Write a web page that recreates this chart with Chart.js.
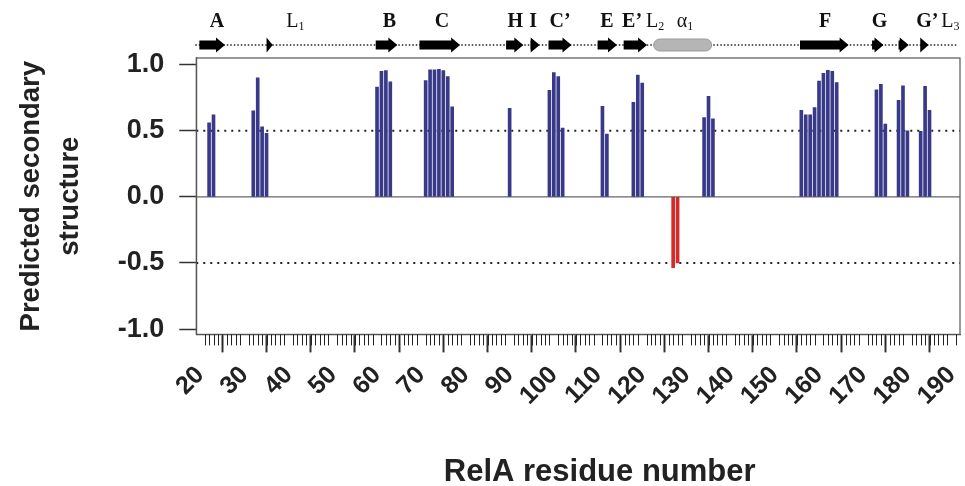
<!DOCTYPE html>
<html>
<head>
<meta charset="utf-8">
<script src="https://cdn.jsdelivr.net/npm/chart.js@4.4.1/dist/chart.umd.min.js"></script>
<style>
  body { margin: 0; background: #fff; }
</style>
</head>
<body>
<canvas id="chart" width="965" height="486"></canvas>
<script>
// residues and predicted scores
const residues = [22, 23, 32, 33, 34, 35, 60, 61, 62, 63, 71, 72, 73, 74, 75, 76, 77, 90,
  99, 100, 101, 102, 111, 112, 118, 119, 120, 127, 128, 134, 135, 136,
  156, 157, 158, 159, 160, 161, 162, 163, 164, 173, 174, 175, 178, 179, 180, 183, 184, 185];
const scores = [0.56, 0.62, 0.65, 0.90, 0.53, 0.48, 0.83, 0.95, 0.955, 0.87,
  0.88, 0.96, 0.96, 0.965, 0.955, 0.91, 0.68, 0.67,
  0.805, 0.94, 0.91, 0.52, 0.685, 0.475, 0.715, 0.92, 0.86, -0.535, -0.50, 0.60, 0.76, 0.59,
  0.655, 0.62, 0.62, 0.675, 0.875, 0.935, 0.957, 0.95, 0.865, 0.81, 0.85, 0.55, 0.73, 0.84, 0.50,
  0.495, 0.835, 0.655];
const yTicks = [-1, -0.5, 0, 0.5, 1];
const refLevels = [0.5, -0.5];

// secondary structure elements along the sequence
const strandStart = [19.8, 35, 59.7, 69.6, 89.2, 94.7, 98.8, 109.9, 115.8, 155.7, 172, 178, 182.9];
const strandEnd = [25.6, 36.4, 64.6, 78.8, 93.1, 96.8, 104, 114.3, 121.1, 166.7, 174.6, 180.3, 184.8];
const helixStart = [122.6];
const helixEnd = [135.7];
const ssLabels = ['A', 'L', 'B', 'C', 'H', 'I', 'C’', 'E', 'E’', 'L', 'α', 'F', 'G', 'G’', 'L'];
const ssSubs = ['', '1', '', '', '', '', '', '', '', '2', '1', '', '', '', '3'];
const ssLabelPos = [23.8, 41.5, 62.8, 74.7, 91.3, 95.3, 101.4, 112.0, 117.7, 122.9, 129.7, 161.4, 173.7, 184.5, 189.7];

const xMin = 19.1, xMax = 191.9;

const barColor = '#39398a';
const negColor = '#d42a2a';

const framePlugin = {
  id: 'frame',
  afterDraw(chart) {
    const ctx = chart.ctx;
    const a = chart.chartArea;
    const x = chart.scales.x;
    ctx.save();
    // box around plot
    ctx.strokeStyle = '#555';
    ctx.lineWidth = 1.2;
    ctx.strokeRect(a.left, a.top, a.right - a.left, a.bottom - a.top);

    // minor x ticks
    ctx.strokeStyle = '#222';
    ctx.lineWidth = 1;
    ctx.beginPath();
    for (let r = 20; r <= 191; r++) {
      if (r % 10 === 0) continue;
      const px = Math.round(x.getPixelForValue(r)) + 0.5;
      ctx.moveTo(px, a.bottom);
      ctx.lineTo(px, a.bottom + 11);
    }
    ctx.stroke();

    // secondary structure track
    const yTrack = 45;
    ctx.setLineDash([1.5, 2]);
    ctx.strokeStyle = '#222';
    ctx.lineWidth = 1.3;
    ctx.beginPath();
    ctx.moveTo(a.left - 1, yTrack);
    ctx.lineTo(a.right - 2, yTrack);
    ctx.stroke();
    ctx.setLineDash([]);

    ctx.fillStyle = '#000';
    strandStart.forEach((s, i) => {
      const x1 = x.getPixelForValue(s);
      const x2 = x.getPixelForValue(strandEnd[i]);
      const head = Math.min(9, x2 - x1);
      ctx.beginPath();
      ctx.moveTo(x1, yTrack - 4.5);
      ctx.lineTo(x2 - head, yTrack - 4.5);
      ctx.lineTo(x2 - head, yTrack - 7.5);
      ctx.lineTo(x2, yTrack);
      ctx.lineTo(x2 - head, yTrack + 7.5);
      ctx.lineTo(x2 - head, yTrack + 4.5);
      ctx.lineTo(x1, yTrack + 4.5);
      ctx.closePath();
      ctx.fill();
    });

    helixStart.forEach((s, i) => {
      const x1 = x.getPixelForValue(s);
      const x2 = x.getPixelForValue(helixEnd[i]);
      ctx.beginPath();
      ctx.roundRect(x1, yTrack - 6, x2 - x1, 12, 6);
      ctx.fillStyle = '#b5b5b5';
      ctx.fill();
      ctx.strokeStyle = '#9a9a9a';
      ctx.lineWidth = 1;
      ctx.stroke();
    });

    ctx.fillStyle = '#111';
    ctx.textBaseline = 'alphabetic';
    ssLabels.forEach((t, i) => {
      const px = x.getPixelForValue(ssLabelPos[i]);
      const bold = ssSubs[i] === '';
      const mainFont = (bold ? 'bold ' : '') + '20px "Liberation Serif"';
      ctx.font = mainFont;
      const w1 = ctx.measureText(t).width;
      ctx.font = '12px "Liberation Serif"';
      const w2 = ssSubs[i] ? ctx.measureText(ssSubs[i]).width : 0;
      const left = px - (w1 + w2) / 2;
      ctx.font = mainFont;
      ctx.textAlign = 'left';
      ctx.fillText(t, left, 27);
      if (ssSubs[i]) {
        ctx.font = '12px "Liberation Serif"';
        ctx.fillText(ssSubs[i], left + w1, 30);
      }
    });
    ctx.restore();
  }
};

const refData = refLevels.map(v => [{ x: xMin, y: v }, { x: xMax, y: v }]);

new Chart(document.getElementById('chart'), {
  type: 'bar',
  data: {
    datasets: [
      {
        type: 'bar',
        data: residues.map((r, i) => ({ x: r, y: scores[i] })),
        backgroundColor: scores.map(v => v < 0 ? negColor : barColor),
        barThickness: 3,
        order: 1
      },
      {
        type: 'line',
        data: refData[0],
        borderColor: '#222',
        borderWidth: 2,
        borderDash: [2, 5],
        pointRadius: 0,
        order: 2
      },
      {
        type: 'line',
        data: refData[1],
        borderColor: '#222',
        borderWidth: 2,
        borderDash: [2, 5],
        pointRadius: 0,
        order: 2
      },
      {
        type: 'line',
        data: [{ x: xMin, y: 0 }, { x: xMax, y: 0 }],
        borderColor: '#666',
        borderWidth: 1.3,
        pointRadius: 0,
        order: 3
      }
    ]
  },
  options: {
    responsive: false,
    animation: false,
    layout: { padding: { top: 58, right: 5, left: 11, bottom: 0 } },
    plugins: {
      legend: { display: false },
      tooltip: { enabled: false }
    },
    scales: {
      x: {
        type: 'linear',
        min: xMin,
        max: xMax,
        offset: false,
        afterBuildTicks: s => {
          const t = [];
          for (let r = 20; r <= 190; r += 10) t.push({ value: r });
          s.ticks = t;
        },
        afterFit: s => { s.paddingRight = 0; s.paddingLeft = 0; },
        grid: {
          drawOnChartArea: false,
          tickLength: 18,
          tickWidth: 2,
          tickColor: '#333'
        },
        border: { color: '#555', width: 1.2 },
        ticks: {
          autoSkip: false,
          minRotation: 45,
          maxRotation: 45,
          padding: 8,
          color: '#222',
          font: { family: '"Liberation Sans"', size: 25, weight: 'bold' },
          callback: v => String(v)
        },
        title: {
          display: true,
          text: '     RelA residue number',
          color: '#222',
          font: { family: '"Liberation Sans"', size: 31, weight: 'bold', lineHeight: 0.9 },
          padding: { top: 39, bottom: 0 }
        }
      },
      y: {
        min: -1.04,
        max: 1.05,
        afterBuildTicks: s => { s.ticks = yTicks.map(v => ({ value: v })); },
        grid: {
          drawOnChartArea: false,
          tickLength: 17,
          tickWidth: 1.5,
          tickColor: '#333'
        },
        border: { color: '#555', width: 1.2 },
        ticks: {
          padding: 15,
          color: '#222',
          font: { family: '"Liberation Sans"', size: 27, weight: 'bold' },
          callback: v => v.toFixed(1)
        },
        title: {
          display: true,
          text: ['Predicted secondary', 'structure'],
          color: '#222',
          font: { family: '"Liberation Sans"', size: 27.5, weight: 'bold', lineHeight: 1.45 },
          padding: { top: 0, bottom: 12 }
        }
      }
    }
  },
  plugins: [framePlugin]
});
</script>
</body>
</html>
